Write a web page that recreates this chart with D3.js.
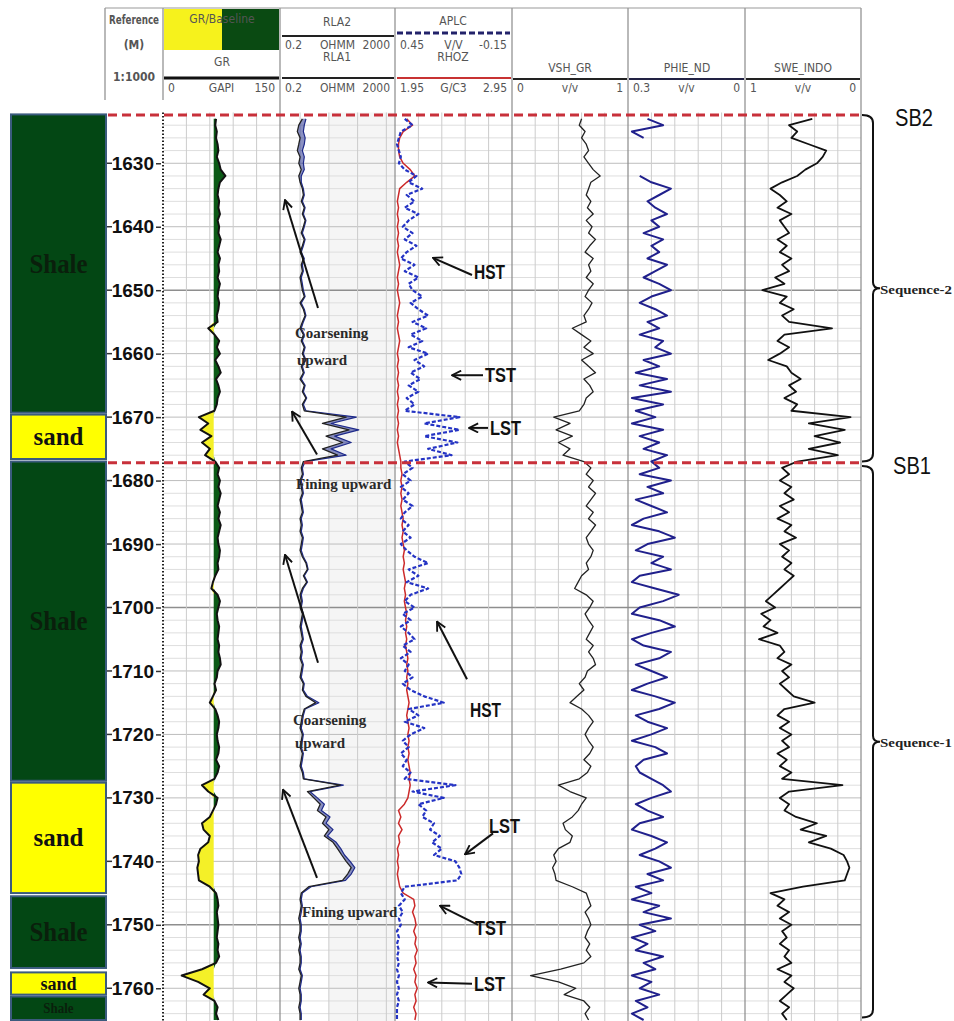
<!DOCTYPE html>
<meta charset="utf-8">
<style>
    body { margin: 0; background: #fff; }
    svg { display: block; }
    .hdr {
        font-family: "Liberation Sans Narrow", "Arial Narrow", "DejaVu Sans Condensed", "Liberation Sans", sans-serif;
        font-size: 12px;
        fill: #555;
    }
    .note {
        font-family: "Liberation Serif", "Times New Roman", serif;
        font-weight: bold;
        font-size: 15px;
        fill: #2a2a2a;
    }
    .tag {
        font-family: "Liberation Sans Narrow", "Arial Narrow", "Liberation Sans", sans-serif;
        font-weight: bold;
        font-size: 20px;
        fill: #111;
    }
</style>
<svg width="954" height="1021">
    <rect fill="#fff" width="100%" height="100%"></rect>
</svg>
<script src="https://cdn.jsdelivr.net/npm/d3@7"></script>
<script>

    // ---- data: one sample per metre, first sample at 1623 m ----
    var depthTop = 1623, depthStep = 1;

    var gr = [
        68, 67, 69, 68, 70, 71, 69, 72, 74, 80,     // 1623-1632
        73, 71, 70, 72, 71, 73, 70, 72, 71, 74,     // 1633-1642
        72, 70, 73, 71, 72, 70, 73, 71, 70, 72,     // 1643-1652
        71, 69, 70, 58, 66, 72, 69, 73, 67, 71,     // 1653-1662
        74, 68, 71, 73, 70, 69, 66, 46, 58, 48,     // 1663-1672
        62, 50, 60, 54, 67, 72, 70, 73, 71, 74,     // 1673-1682
        72, 70, 73, 71, 74, 72, 70, 71, 73, 72,     // 1683-1692
        70, 71, 67, 64, 62, 70, 73, 71, 69, 70,     // 1693-1702
        72, 71, 70, 72, 71, 73, 74, 70, 69, 66,     // 1703-1712
        68, 64, 60, 67, 70, 72, 71, 69, 70, 72,     // 1713-1722
        71, 68, 72, 70, 66, 50, 58, 70, 68, 64,     // 1723-1732
        60, 50, 52, 60, 58, 48, 45, 46, 44, 45,     // 1733-1742
        46, 60, 68, 70, 71, 69, 70, 71, 70, 69,     // 1743-1752
        71, 70, 72, 68, 50, 24, 45, 60, 52, 66,     // 1753-1762
        70, 68, 71                                  // 1763-1765
    ];
    var grBaseline = 65;

    var rla1 = [
        1.2, 0.9, 0.8, 1.0, 0.9, 0.8, 1.0, 0.9, 1.1, 0.9,
        1.0, 1.2, 1.3, 1.1, 1.4, 1.2, 1.5, 1.3, 1.1, 1.4,
        1.2, 1.0, 1.3, 1.1, 1.2, 1.0, 1.1, 1.2, 1.4, 1.0,
        1.3, 1.5, 1.2, 1.0, 1.3, 1.1, 1.4, 1.2, 1.5, 1.1,
        1.3, 1.0, 1.4, 1.2, 1.6, 1.2, 1.4, 40, 6, 50,
        8, 30, 6, 20, 1.3, 1.1, 1.2, 1.0, 1.1, 1.2,
        1.0, 1.1, 1.2, 1.0, 1.1, 1.0, 1.2, 1.1, 1.0, 1.2,
        1.6, 1.8, 1.3, 1.7, 1.2, 1.0, 1.1, 1.0, 1.2, 1.1,
        1.0, 1.1, 1.2, 1.0, 1.1, 1.0, 1.2, 1.1, 1.0, 1.3,
        1.2, 1.6, 3.5, 1.4, 1.2, 1.1, 1.0, 1.2, 1.1, 1.0,
        1.2, 1.1, 1.0, 1.2, 1.3, 25, 1.8, 3.0, 5.0, 4.0,
        8, 6, 10, 7, 14, 20, 28, 40, 60, 45,
        30, 2.0, 1.1, 1.0, 1.1, 1.0, 0.9, 1.0, 1.0, 0.9,
        1.0, 0.9, 1.0, 1.0, 0.9, 1.1, 1.0, 0.9, 1.0, 1.0,
        0.9, 1.0, 1.0
    ];

    var rla2 = [
        1.6, 1.4, 1.3, 1.5, 1.4, 1.2, 1.4, 1.3, 1.4, 1.1,
        1.1, 1.3, 1.4, 1.2, 1.5, 1.3, 1.6, 1.4, 1.2, 1.5,
        1.3, 1.1, 1.4, 1.2, 1.3, 1.1, 1.2, 1.3, 1.5, 1.1,
        1.4, 1.6, 1.3, 1.1, 1.4, 1.2, 1.5, 1.3, 1.6, 1.2,
        1.4, 1.1, 1.5, 1.3, 1.7, 1.3, 1.6, 90, 12, 110,
        16, 60, 12, 40, 1.5, 1.2, 1.3, 1.1, 1.2, 1.3,
        1.1, 1.2, 1.3, 1.1, 1.2, 1.1, 1.3, 1.2, 1.1, 1.3,
        1.7, 1.9, 1.4, 1.8, 1.3, 1.1, 1.2, 1.1, 1.3, 1.2,
        1.1, 1.2, 1.3, 1.1, 1.2, 1.1, 1.3, 1.2, 1.1, 1.4,
        1.3, 1.8, 4.5, 1.5, 1.3, 1.2, 1.1, 1.3, 1.2, 1.1,
        1.3, 1.2, 1.1, 1.3, 1.4, 32, 2.2, 4.0, 7.0, 5.5,
        11, 8, 14, 9, 18, 26, 35, 55, 80, 60,
        38, 2.4, 1.2, 1.1, 1.2, 1.1, 1.0, 1.1, 1.1, 1.0,
        1.1, 1.0, 1.1, 1.1, 1.0, 1.2, 1.1, 1.0, 1.1, 1.1,
        1.0, 1.1, 1.1
    ];

    var rhoz = [
        2.05, 2.10, 2.02, 1.99, 1.98, 1.98, 1.99, 2.02, 2.08, 2.12,
        2.05, 1.99, 1.98, 1.97, 1.98, 1.97, 1.98, 1.97, 1.98, 1.97,
        1.98, 1.97, 1.98, 1.99, 1.98, 1.97, 1.98, 1.97, 1.98, 1.99,
        1.98, 1.97, 1.98, 1.97, 1.98, 1.99, 1.98, 1.97, 1.98, 1.97,
        1.98, 1.97, 1.98, 1.97, 1.98, 1.97, 1.98, 1.97, 1.98, 1.97,
        1.98, 1.97, 1.98, 1.99, 2.00, 2.00, 2.01, 2.00, 2.01, 2.00,
        2.01, 2.00, 2.01, 2.02, 2.01, 2.02, 2.01, 2.02, 2.03, 2.02,
        2.03, 2.02, 2.03, 2.04, 2.03, 2.04, 2.03, 2.04, 2.05, 2.04,
        2.05, 2.04, 2.05, 2.04, 2.05, 2.06, 2.05, 2.06, 2.05, 2.06,
        2.05, 2.06, 2.07, 2.06, 2.05, 2.06, 2.07, 2.06, 2.07, 2.06,
        2.07, 2.06, 2.07, 2.08, 2.07, 2.08, 2.07, 2.06, 2.03, 1.98,
        2.00, 1.98, 2.01, 1.98, 1.99, 1.97, 1.98, 1.97, 1.98, 1.97,
        1.98, 1.99, 2.02, 2.11, 2.12, 2.10, 2.12, 2.13, 2.11, 2.13,
        2.12, 2.14, 2.12, 2.13, 2.11, 2.13, 2.12, 2.14, 2.12, 2.13,
        2.11, 2.13, 2.12
    ];

    var aplc = [
        0.40, 0.36, 0.42, 0.43, 0.44, 0.43, 0.42, 0.43, 0.40, 0.34,
        0.38, 0.31, 0.39, 0.35, 0.40, 0.33, 0.38, 0.41, 0.36, 0.40,
        0.34, 0.39, 0.42, 0.35, 0.40, 0.33, 0.38, 0.36, 0.31, 0.37,
        0.33, 0.28, 0.36, 0.29, 0.37, 0.31, 0.38, 0.28, 0.35, 0.30,
        0.37, 0.32, 0.38, 0.33, 0.39, 0.35, 0.40, 0.12, 0.30, 0.12,
        0.30, 0.13, 0.28, 0.16, 0.40, 0.36, 0.41, 0.37, 0.42, 0.38,
        0.41, 0.36, 0.40, 0.42, 0.38, 0.41, 0.37, 0.42, 0.39, 0.35,
        0.28, 0.38, 0.33, 0.39, 0.28, 0.37, 0.40, 0.35, 0.41, 0.37,
        0.42, 0.38, 0.35, 0.41, 0.37, 0.42, 0.38, 0.40, 0.36, 0.41,
        0.37, 0.30, 0.20, 0.38, 0.33, 0.40, 0.30, 0.37, 0.41, 0.38,
        0.42, 0.39, 0.41, 0.37, 0.40, 0.14, 0.36, 0.20, 0.33, 0.29,
        0.31, 0.25, 0.27, 0.22, 0.26, 0.21, 0.25, 0.14, 0.12, 0.11,
        0.13, 0.40, 0.42, 0.40, 0.43, 0.41, 0.43, 0.42, 0.44, 0.43,
        0.44, 0.43, 0.44, 0.43, 0.44, 0.43, 0.44, 0.43, 0.44, 0.43,
        0.44, 0.44, 0.44
    ];

    var vsh = [
        0.60, 0.58, 0.63, 0.60, 0.64, 0.66, 0.62, 0.66, 0.70, 0.76,
        0.68, 0.66, 0.64, 0.68, 0.65, 0.70, 0.64, 0.69, 0.66, 0.72,
        0.67, 0.63, 0.70, 0.66, 0.68, 0.64, 0.70, 0.66, 0.63, 0.69,
        0.66, 0.62, 0.64, 0.52, 0.60, 0.68, 0.62, 0.70, 0.60, 0.66,
        0.72, 0.62, 0.67, 0.70, 0.64, 0.62, 0.58, 0.36, 0.50, 0.38,
        0.52, 0.40, 0.50, 0.44, 0.62, 0.68, 0.64, 0.70, 0.66, 0.72,
        0.68, 0.64, 0.70, 0.66, 0.72, 0.68, 0.64, 0.66, 0.70, 0.68,
        0.64, 0.66, 0.60, 0.57, 0.54, 0.64, 0.70, 0.67, 0.63, 0.66,
        0.70, 0.67, 0.64, 0.70, 0.66, 0.70, 0.72, 0.65, 0.63, 0.58,
        0.62, 0.56, 0.50, 0.60, 0.66, 0.70, 0.66, 0.63, 0.66, 0.70,
        0.67, 0.62, 0.68, 0.65, 0.58, 0.40, 0.50, 0.64, 0.60, 0.57,
        0.52, 0.44, 0.46, 0.52, 0.50, 0.40, 0.36, 0.38, 0.35, 0.37,
        0.38, 0.52, 0.64, 0.66, 0.68, 0.63, 0.66, 0.68, 0.65, 0.63,
        0.67, 0.64, 0.68, 0.62, 0.42, 0.16, 0.40, 0.55, 0.45, 0.62,
        0.67, 0.63, 0.66
    ];

    var phie = [
        0.25, 0.21, 0.29, 0.26, null, null, null, null, null, 0.27,
        0.24, 0.19, 0.22, 0.25, 0.23, 0.20, 0.24, 0.22, 0.26, 0.21,
        0.24, 0.22, 0.25, 0.20, 0.23, 0.26, 0.22, 0.19, 0.24, 0.27,
        0.23, 0.20, 0.25, 0.22, 0.27, 0.21, 0.23, 0.19, 0.26, 0.22,
        0.28, 0.20, 0.27, 0.19, 0.29, 0.21, 0.28, 0.23, 0.29, 0.21,
        0.27, 0.22, 0.26, 0.20, 0.24, 0.22, 0.27, 0.19, 0.25, 0.21,
        0.28, 0.24, 0.20, 0.26, 0.29, 0.22, 0.18, 0.25, 0.28, 0.21,
        0.24, 0.19, 0.27, 0.29, 0.23, 0.17, 0.21, 0.27, 0.29, 0.22,
        0.18, 0.24, 0.29, 0.26, 0.19, 0.22, 0.28, 0.24, 0.20, 0.25,
        0.29, 0.23, 0.18, 0.22, 0.28, 0.25, 0.20, 0.24, 0.29, 0.23,
        0.20, 0.26, 0.28, 0.27, 0.24, 0.21, 0.19, 0.24, 0.28, 0.25,
        0.21, 0.27, 0.29, 0.24, 0.20, 0.23, 0.27, 0.22, 0.19, 0.25,
        0.21, 0.28, 0.24, 0.29, 0.22, 0.26, 0.19, 0.27, 0.23, 0.29,
        0.25, 0.28, 0.21, 0.26, 0.23, 0.29, 0.24, 0.27, 0.22, 0.28,
        0.25, 0.29, 0.26
    ];

    var swe = [
        0.42, 0.62, 0.55, 0.60, 0.45, 0.30, 0.33, 0.38, 0.48, 0.55,
        0.68, 0.78, 0.70, 0.64, 0.72, 0.60, 0.70, 0.66, 0.62, 0.72,
        0.64, 0.70, 0.60, 0.68, 0.62, 0.74, 0.66, 0.85, 0.64, 0.70,
        0.58, 0.68, 0.62, 0.25, 0.66, 0.72, 0.62, 0.70, 0.80, 0.64,
        0.60, 0.52, 0.62, 0.56, 0.66, 0.55, 0.60, 0.09, 0.45, 0.14,
        0.40, 0.18, 0.45, 0.20, 0.55, 0.68, 0.62, 0.70, 0.60, 0.66,
        0.58, 0.70, 0.62, 0.72, 0.60, 0.66, 0.56, 0.70, 0.62, 0.68,
        0.60, 0.66, 0.58, 0.64, 0.70, 0.76, 0.82, 0.74, 0.86, 0.78,
        0.84, 0.72, 0.88, 0.70, 0.66, 0.72, 0.60, 0.68, 0.62, 0.70,
        0.64, 0.58, 0.40, 0.66, 0.72, 0.62, 0.70, 0.60, 0.68, 0.62,
        0.72, 0.64, 0.70, 0.60, 0.68, 0.16, 0.62, 0.70, 0.62, 0.66,
        0.56, 0.38, 0.52, 0.30, 0.45, 0.26, 0.15, 0.12, 0.10, 0.12,
        0.14, 0.50, 0.78, 0.66, 0.72, 0.62, 0.70, 0.60, 0.68, 0.64,
        0.70, 0.62, 0.66, 0.60, 0.72, 0.60, 0.66, 0.58, 0.64, 0.70,
        0.62, 0.68, 0.64
    ];

    // lithology column
    var lithTop  = [1622.3, 1669.6, 1677.0, 1727.6, 1745.5, 1757.5, 1761.3];
    var lithBase = [1669.3, 1676.6, 1727.3, 1745.0, 1756.8, 1761.0, 1765.0];
    var lithType = ["Shale", "sand", "Shale", "sand", "Shale", "sand", "Shale"];

    var depthTicks = [1630, 1640, 1650, 1660, 1670, 1680, 1690, 1700, 1710, 1720, 1730, 1740, 1750, 1760];

    // sequence boundaries and sequences
    var boundaryName  = ["SB2", "SB1"];
    var boundaryDepth = [1622.4, 1677.2];
    var seqName = ["Sequence-2", "Sequence-1"];
    var seqTop  = [1622.4, 1677.7];
    var seqBase = [1677.0, 1764.6];

    // interpretation notes (depths in m)
    var tractText  = ["HST", "TST", "LST", "HST", "LST", "TST", "LST"];
    var tractDepth = [1647.2, 1663.4, 1671.7, 1716.1, 1734.4, 1750.5, 1759.4];
    var trendText  = ["Coarsening", "upward", "Fining upward", "Coarsening", "upward", "Fining upward"];
    var trendDepth = [1656.8, 1661.0, 1680.6, 1717.8, 1721.4, 1748.0];

    // ---- layout ----
    var svg = d3.select("svg");
    var y = d3.scaleLinear().domain([1622, 1765]).range([112.5, 1020]);
    var depths = gr.map(function (v, i) { return depthTop + i * depthStep; });

    var T = {
        gr:   [163, 280],
        rla:  [280, 395],
        den:  [395, 512],
        vsh:  [512, 628],
        phie: [628, 745],
        swe:  [745, 861]
    };

    var xGR   = d3.scaleLinear().domain([0, 150]).range(T.gr);
    var xRes  = d3.scaleLog().domain([0.2, 2000]).range(T.rla);
    var xAplc = d3.scaleLinear().domain([0.45, -0.15]).range(T.den);
    var xRhoz = d3.scaleLinear().domain([1.95, 2.95]).range(T.den);
    var xVsh  = d3.scaleLinear().domain([0, 1]).range(T.vsh);
    var xPhie = d3.scaleLinear().domain([0.3, 0]).range(T.phie);
    var xSwe  = d3.scaleLinear().domain([1, 0]).range(T.swe);

    var yTop = y(1622), yBot = 1021;

    // clip paths, one per track
    var defs = svg.append("defs");
    Object.keys(T).forEach(function (k) {
        defs.append("clipPath").attr("id", "clip-" + k)
            .append("rect")
            .attr("x", T[k][0]).attr("width", T[k][1] - T[k][0])
            .attr("y", yTop).attr("height", yBot - yTop);
    });
    defs.append("marker").attr("id", "arrow")
        .attr("viewBox", "0 0 12 12").attr("refX", 11).attr("refY", 6)
        .attr("markerWidth", 11).attr("markerHeight", 11)
        .attr("markerUnits", "userSpaceOnUse").attr("orient", "auto")
        .append("path").attr("d", "M1,1 L11,6 L1,11")
        .attr("fill", "none").attr("stroke", "#111").attr("stroke-width", 2);

    // ---- grid ----
    var grid = svg.append("g");

    // faint shade in the resistivity track
    grid.append("rect")
        .attr("x", xRes(10)).attr("width", T.rla[1] - xRes(10) - 1)
        .attr("y", yTop).attr("height", yBot - yTop)
        .attr("fill", "#f5f5f5");

    grid.selectAll("line.h").data(d3.range(1624, 1765, 2)).join("line")
        .attr("class", "h")
        .attr("x1", T.gr[0]).attr("x2", T.swe[1])
        .attr("y1", function (d) { return y(d); }).attr("y2", function (d) { return y(d); })
        .attr("stroke", function (d) { return d % 50 === 0 ? "#8e8e8e" : d % 10 === 0 ? "#bdbdbd" : "#dedede"; })
        .attr("stroke-width", function (d) { return d % 50 === 0 ? 1.4 : 1; });

    var vLines = [];
    ["gr", "den", "vsh", "phie", "swe"].forEach(function (k) {
        var w = T[k][1] - T[k][0];
        for (var i = 1; i < 5; i++) vLines.push(T[k][0] + i * w / 5);
    });
    [1, 10, 100, 1000].forEach(function (v) { vLines.push(xRes(v)); });

    grid.selectAll("line.v").data(vLines).join("line")
        .attr("class", "v")
        .attr("x1", function (d) { return d; }).attr("x2", function (d) { return d; })
        .attr("y1", yTop).attr("y2", yBot)
        .attr("stroke", "#cccccc");

    // track borders (full height)
    var borders = [T.rla[0], T.den[0], T.vsh[0], T.phie[0], T.swe[0], T.swe[1]];
    grid.selectAll("line.b").data(borders).join("line")
        .attr("class", "b")
        .attr("x1", function (d) { return d; }).attr("x2", function (d) { return d; })
        .attr("y1", 8).attr("y2", yBot)
        .attr("stroke", "#8a8a8a").attr("stroke-width", 1.2);

    grid.append("line").attr("x1", 163).attr("x2", 163).attr("y1", 8).attr("y2", 100)
        .attr("stroke", "#8a8a8a").attr("stroke-width", 1.2);
    grid.append("line").attr("x1", 105).attr("x2", 105).attr("y1", 8).attr("y2", 100)
        .attr("stroke", "#8a8a8a").attr("stroke-width", 1.2);
    grid.append("line").attr("x1", 105).attr("x2", T.swe[1]).attr("y1", 8).attr("y2", 8)
        .attr("stroke", "#9a9a9a").attr("stroke-width", 1.2);

    // dotted depth line
    grid.append("line").attr("x1", 163).attr("x2", 163).attr("y1", yTop).attr("y2", yBot)
        .attr("stroke", "#222").attr("stroke-width", 2).attr("stroke-dasharray", "1.5,2");

    // ---- lithology ----
    var lith = svg.append("g");
    lith.selectAll("rect").data(lithTop).join("rect")
        .attr("x", 11).attr("width", 95)
        .attr("y", function (d) { return y(d); })
        .attr("height", function (d, i) { return y(lithBase[i]) - y(d); })
        .attr("fill", function (d, i) { return lithType[i] === "Shale" ? "#034714" : "#ffff00"; })
        .attr("stroke", "#3b5b7e").attr("stroke-width", 2);

    lith.selectAll("text").data(lithTop).join("text")
        .each(function (d, i) {
            var h = y(lithBase[i]) - y(d);
            var shale = lithType[i] === "Shale";
            var fs = Math.min(shale ? 27 : 26, h * (shale ? 0.6 : 0.85));
            d3.select(this)
                .attr("x", 58.5)
                .attr("y", (y(d) + y(lithBase[i])) / 2)
                .attr("text-anchor", "middle")
                .attr("dominant-baseline", "central")
                .attr("font-family", "Liberation Serif, Times New Roman, serif")
                .attr("font-weight", "bold")
                .attr("font-size", fs)
                .attr("textLength", fs * (shale ? 2.15 : 1.92))
                .attr("lengthAdjust", "spacingAndGlyphs")
                .attr("fill", shale ? "#0a1f0c" : "#111")
                .text(lithType[i]);
        });

    // ---- depth axis ----
    var axis = d3.axisLeft(y).tickValues(depthTicks).tickSize(5).tickPadding(2).tickFormat(d3.format("d"));
    svg.append("g").attr("transform", "translate(161,0)").call(axis)
        .call(function (g) { g.select(".domain").remove(); })
        .call(function (g) {
            g.selectAll("text")
                .attr("font-family", "Liberation Sans, Arial, sans-serif")
                .attr("font-size", 19).attr("font-weight", "bold").attr("fill", "#111");
        })
        .call(function (g) { g.selectAll("line").attr("stroke", "#333").attr("stroke-width", 1.5); });

    svg.append("g").selectAll("line").data(depthTicks).join("line")
        .attr("x1", 107).attr("x2", 112)
        .attr("y1", function (d) { return y(d); }).attr("y2", function (d) { return y(d); })
        .attr("stroke", "#333").attr("stroke-width", 1.5);

    // ---- curves ----
    var rows = depths.map(function (d, i) { return i; });

    function curve(vals, xs, clip, stroke, width, dash) {
        var line = d3.line()
            .defined(function (i) { return vals[i] != null; })
            .x(function (i) { return xs(vals[i]); })
            .y(function (i) { return y(depths[i]); });
        return svg.append("path").datum(rows)
            .attr("clip-path", "url(#clip-" + clip + ")")
            .attr("d", line)
            .attr("fill", "none")
            .attr("stroke", stroke)
            .attr("stroke-width", width)
            .attr("stroke-linejoin", "round")
            .attr("stroke-dasharray", dash || null);
    }

    // GR with baseline shading
    var xb = xGR(grBaseline);
    var areaHi = d3.area()
        .x0(xb).x1(function (i) { return xGR(Math.max(gr[i], grBaseline)); })
        .y(function (i) { return y(depths[i]); });
    var areaLo = d3.area()
        .x0(xb).x1(function (i) { return xGR(Math.min(gr[i], grBaseline)); })
        .y(function (i) { return y(depths[i]); });
    svg.append("path").datum(rows).attr("d", areaHi).attr("fill", "#0b5a16").attr("clip-path", "url(#clip-gr)");
    svg.append("path").datum(rows).attr("d", areaLo).attr("fill", "#f4f028").attr("clip-path", "url(#clip-gr)");
    curve(gr, xGR, "gr", "#111", 2);

    // resistivity pair with fill between
    var resArea = d3.area()
        .x0(function (i) { return xRes(rla1[i]); })
        .x1(function (i) { return xRes(rla2[i]); })
        .y(function (i) { return y(depths[i]); });
    svg.append("path").datum(rows).attr("d", resArea)
        .attr("fill", "#2a3590").attr("fill-opacity", 0.55).attr("clip-path", "url(#clip-rla)");
    curve(rla2, xRes, "rla", "#1e2a8a", 1.2);
    curve(rla1, xRes, "rla", "#222", 1.3);

    // density / porosity
    curve(rhoz, xRhoz, "den", "#cc2a2a", 1.5);
    curve(aplc, xAplc, "den", "#2433c4", 2.2, "4,2");

    curve(vsh, xVsh, "vsh", "#222", 1.3);
    curve(phie, xPhie, "phie", "#20208c", 2);
    curve(swe, xSwe, "swe", "#111", 1.8);

    // ---- header ----
    var hdr = svg.append("g");

    function txt(x, yy, s, anchor, cls) {
        return hdr.append("text").attr("class", cls || "hdr")
            .attr("x", x).attr("y", yy)
            .attr("text-anchor", anchor || "middle")
            .attr("dominant-baseline", "central")
            .text(s);
    }
    function hline(x0, x1, yy, color, w, dash) {
        hdr.append("line").attr("x1", x0).attr("x2", x1).attr("y1", yy).attr("y2", yy)
            .attr("stroke", color).attr("stroke-width", w)
            .attr("stroke-dasharray", dash || null);
    }
    function scaleRow(track, yy, a, b, c, color) {
        txt(track[0] + 5, yy, a, "start").attr("fill", color || "#555");
        txt((track[0] + track[1]) / 2, yy, b).attr("fill", color || "#555");
        txt(track[1] - 5, yy, c, "end").attr("fill", color || "#555");
    }

    // reference column
    txt(134, 20, "Reference").attr("font-weight", "bold").attr("font-size", 11).attr("fill", "#111")
        .attr("textLength", 50).attr("lengthAdjust", "spacingAndGlyphs");
    txt(134, 45, "(M)").attr("font-weight", "bold").attr("font-size", 17).attr("fill", "#111")
        .attr("font-family", "Liberation Sans, Arial, sans-serif");
    txt(134, 77, "1:1000").attr("font-weight", "bold").attr("font-size", 17).attr("fill", "#111")
        .attr("font-family", "Liberation Sans, Arial, sans-serif");

    // GR
    hdr.append("rect").attr("x", 164).attr("y", 9).attr("width", 58).attr("height", 41).attr("fill", "#f6f21c");
    hdr.append("rect").attr("x", 222).attr("y", 9).attr("width", 57).attr("height", 41).attr("fill", "#0a4a12");
    txt(222, 19, "GR/Baseline").attr("font-size", 11).attr("fill", "#7d7a2a");
    txt(222, 62, "GR");
    hline(164, 279, 78, "#111", 3);
    scaleRow(T.gr, 88, "0", "GAPI", "150");

    // resistivity
    txt(337, 22, "RLA2");
    hline(282, 394, 36, "#222", 2);
    scaleRow(T.rla, 45, "0.2", "OHMM", "2000");
    txt(337, 57, "RLA1");
    hline(282, 394, 78, "#222", 2);
    scaleRow(T.rla, 88, "0.2", "OHMM", "2000");

    // density / porosity
    txt(453, 21, "APLC").attr("fill", "#5050a8");
    hline(397, 510, 33, "#22226a", 3, "6,3");
    scaleRow(T.den, 45, "0.45", "V/V", "-0.15", "#55558f");
    txt(453, 57, "RHOZ").attr("fill", "#c84a4a");
    hline(397, 511, 78, "#c83232", 2.2);
    scaleRow(T.den, 88, "1.95", "G/C3", "2.95", "#a05050");

    // computed curves
    txt(570, 68, "VSH_GR");
    hline(513, 627, 79, "#222", 2);
    scaleRow(T.vsh, 88, "0", "v/v", "1");

    txt(687, 68, "PHIE_ND").attr("fill", "#66669a");
    hline(629, 744, 79, "#222244", 2);
    scaleRow(T.phie, 88, "0.3", "v/v", "0", "#55558f");

    txt(803, 68, "SWE_INDO");
    hline(746, 860, 79, "#222", 2);
    scaleRow(T.swe, 88, "1", "v/v", "0");

    // ---- sequence boundaries ----
    var seq = svg.append("g");
    seq.selectAll("line").data(boundaryDepth).join("line")
        .attr("x1", 108).attr("x2", 862)
        .attr("y1", function (d) { return y(d); }).attr("y2", function (d) { return y(d); })
        .attr("stroke", "#c8303a").attr("stroke-width", 3).attr("stroke-dasharray", "9,5");

    seq.selectAll("text.sb").data(boundaryDepth).join("text")
        .attr("class", "sb")
        .attr("x", function (d, i) { return i === 0 ? 895 : 893; })
        .attr("y", function (d) { return y(d) + 3; })
        .attr("dominant-baseline", "central")
        .attr("font-family", "Liberation Sans Narrow, Arial Narrow, Liberation Sans, sans-serif")
        .attr("font-size", 23)
        .attr("textLength", 38).attr("lengthAdjust", "spacingAndGlyphs")
        .attr("fill", "#111")
        .text(function (d, i) { return boundaryName[i]; });

    seq.selectAll("path").data(seqTop).join("path")
        .attr("d", function (d, i) {
            var a = y(d), b = y(seqBase[i]), m = (a + b) / 2;
            return "M862," + a + " Q873," + a + " 873," + (a + 8) +
                " L873," + (m - 6) + " Q873," + m + " 880," + m +
                " Q873," + m + " 873," + (m + 6) +
                " L873," + (b - 8) + " Q873," + b + " 862," + b;
        })
        .attr("fill", "none").attr("stroke", "#111").attr("stroke-width", 2);

    seq.selectAll("text.seq").data(seqTop).join("text")
        .attr("class", "seq")
        .attr("x", 880)
        .attr("y", function (d, i) { return (y(d) + y(seqBase[i])) / 2 + 1; })
        .attr("dominant-baseline", "central")
        .attr("font-family", "Liberation Serif, Times New Roman, serif")
        .attr("font-weight", "bold").attr("font-size", 13)
        .attr("textLength", 72).attr("lengthAdjust", "spacingAndGlyphs")
        .attr("fill", "#222")
        .text(function (d, i) { return seqName[i]; });

    // ---- interpretation arrows and labels ----
    var notes = svg.append("g");

    // arrows: [tail x, tail depth, tip x, tip depth]
    var arrows = [
        [318, 1652.8, 285, 1635.8], [317, 1675.9, 292, 1669.1],
        [318, 1708.7, 285, 1691.7], [317, 1742.6, 283, 1728.7],
        [472, 1647.6, 433, 1644.9], [483, 1663.4, 452, 1663.4], [488, 1671.7, 469, 1671.7],
        [467, 1711.3, 437, 1702.2], [493, 1735.6, 465, 1738.9],
        [478, 1750.0, 440, 1747.0], [472, 1759.3, 428, 1759.1]
    ];
    notes.selectAll("line").data(arrows).join("line")
        .attr("x1", function (d) { return d[0]; }).attr("y1", function (d) { return y(d[1]); })
        .attr("x2", function (d) { return d[2]; }).attr("y2", function (d) { return y(d[3]); })
        .attr("stroke", "#111").attr("stroke-width", 2)
        .attr("marker-end", "url(#arrow)");

    var tractX = [474, 485, 490, 470, 489, 475, 474];
    notes.selectAll("text.tag").data(tractText).join("text")
        .attr("class", "tag")
        .attr("x", function (d, i) { return tractX[i]; })
        .attr("y", function (d, i) { return y(tractDepth[i]); })
        .attr("dominant-baseline", "central")
        .attr("textLength", 31).attr("lengthAdjust", "spacingAndGlyphs")
        .text(function (d) { return d; });

    var trendX = [295, 297, 296, 293, 295, 302];
    notes.selectAll("text.note").data(trendText).join("text")
        .attr("class", "note")
        .attr("x", function (d, i) { return trendX[i]; })
        .attr("y", function (d, i) { return y(trendDepth[i]); })
        .attr("dominant-baseline", "central")
        .text(function (d) { return d; });

</script>
